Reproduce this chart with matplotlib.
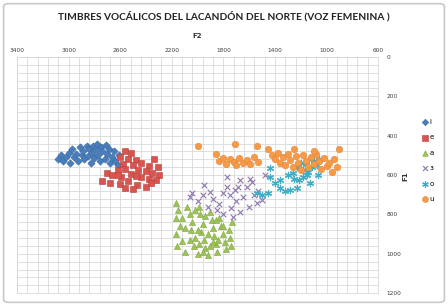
import numpy as np
import matplotlib.pyplot as plt
from matplotlib.patches import FancyBboxPatch

# F2 / F1 (Hz), one list per vowel
i_f2 = [3080, 3060, 3040, 3020, 3000, 2990, 2970, 2960, 2940, 2930, 2910, 2900, 2890,
        2880, 2860, 2850, 2840, 2830, 2820, 2810, 2800, 2790, 2780, 2770, 2760, 2750,
        2740, 2720, 2710, 2700, 2690, 2680, 2660, 2650, 2640, 2620, 2610]
i_f1 = [520, 500, 530, 510, 490, 540, 470, 510, 495, 530, 460, 500, 480,
        520, 450, 505, 470, 540, 490, 455, 515, 470, 440, 500, 530, 460,
        480, 520, 445, 495, 470, 540, 510, 480, 530, 550, 500]

e_f2 = [2560, 2520, 2600, 2540, 2480, 2580, 2500, 2440, 2380, 2340, 2310, 2620, 2560,
        2460, 2400, 2350, 2300, 2700, 2660, 2590, 2520, 2440, 2380, 2320, 2740, 2680,
        2600, 2540, 2470, 2400, 2560, 2500, 2620, 2480, 2360]
e_f1 = [480, 490, 510, 520, 525, 545, 550, 540, 555, 520, 560, 575, 570,
        575, 580, 590, 600, 590, 600, 610, 595, 610, 620, 625, 630, 640,
        645, 630, 650, 660, 665, 670, 600, 605, 640]

a_f2 = [2170, 2150, 2170, 2140, 2165, 2120, 2160, 2100, 2080, 2060, 2040, 2050, 2020,
        2030, 2000, 1990, 1980, 1960, 1970, 1950, 1940, 1920, 1900, 1890, 1880, 1870,
        1860, 1850, 1830, 1820, 1800, 1790, 1780, 1760, 1750, 1740, 1730, 2100, 2000,
        1920, 1880, 1960, 1900, 1840, 2060, 1990, 2020, 1940, 1860, 1800, 2120]
a_f1 = [740, 780, 820, 860, 900, 935, 960, 990, 760, 800, 840, 880, 920,
        960, 1000, 760, 800, 850, 890, 930, 970, 1005, 790, 830, 870, 910,
        950, 990, 820, 860, 900, 940, 975, 880, 920, 960, 840, 870, 880,
        900, 940, 990, 960, 930, 930, 950, 780, 810, 830, 860, 820]

schwa_f2 = [2060, 2040, 2000, 1960, 1900, 1880, 1850, 1830, 1800, 1770, 1770, 1740,
            1725, 1710, 1690, 1670, 1670, 1650, 1620, 1580, 1540, 1500, 1480, 1590,
            1560, 1600, 1700, 1920, 1950, 1800, 1750, 1530]
schwa_f1 = [710, 690, 730, 700, 685, 720, 780, 745, 690, 610, 660, 765,
            815, 675, 660, 625, 790, 710, 660, 635, 740, 725, 600, 620,
            700, 760, 730, 760, 650, 800, 700, 680]

o_f2 = [1540, 1500, 1450, 1440, 1440, 1400, 1360, 1360, 1320, 1280, 1260, 1230, 1230,
        1210, 1180, 1160, 1150, 1130, 1110, 1100, 1090, 1075, 1070, 1120, 1200, 1300,
        1250, 1180, 1140, 1060]
o_f1 = [690, 700, 690, 610, 565, 640, 625, 665, 680, 675, 590, 665, 560,
        625, 575, 545, 600, 640, 560, 530, 540, 550, 600, 520, 540, 600,
        620, 610, 585, 520]

u_f2 = [2000, 1710, 1540, 1860, 1830, 1800, 1780, 1750, 1720, 1700, 1680, 1650, 1620,
        1590, 1560, 1530, 1420, 1400, 1380, 1360, 1340, 1320, 1300, 1280, 1260, 1240,
        1220, 1200, 1180, 1160, 1140, 1120, 1100, 1080, 1060, 1040, 1020, 1000, 980,
        960, 940, 920, 900, 1250, 1450, 1100]
u_f1 = [455, 440, 450, 495, 530, 515, 545, 520, 535, 550, 515, 540, 525,
        545, 510, 535, 500, 520, 490, 540, 510, 550, 495, 525, 560, 505,
        540, 575, 500, 530, 560, 510, 545, 495, 530, 570, 515, 555, 540,
        585, 520, 560, 470, 470, 470, 480]

labels = ['i', 'e', 'a', 'ɜ', 'o', 'u']

fig = plt.figure(figsize=(4.48, 3.06), dpi=100)
fig.patches.append(FancyBboxPatch((0.008, 0.012), 0.984, 0.976, boxstyle='round,pad=0,rounding_size=0.01',
                                  transform=fig.transFigure, facecolor='none', edgecolor='#c8c8c8', lw=1.2))
ax = fig.add_axes([0.038, 0.042, 0.806, 0.772])

ax.scatter(i_f2, i_f1, marker='D', s=14, c='#4a7ebb', edgecolors='#3a6aa5', linewidths=0.4, label=labels[0])
ax.scatter(e_f2, e_f1, marker='s', s=18, c='#d9534f', edgecolors='#b8403c', linewidths=0.4, label=labels[1])
ax.scatter(a_f2, a_f1, marker='^', s=20, c='#9bc356', edgecolors='#82a845', linewidths=0.4, label=labels[2])
ax.scatter(schwa_f2, schwa_f1, marker='x', s=16, c='#8d76ad', linewidths=0.8, label=labels[3])
ax.scatter(o_f2, o_f1, marker=(6, 2, 0), s=20, c='#3fadc6', linewidths=0.9, label=labels[4])
ax.scatter(u_f2, u_f1, marker='o', s=22, c='#f79a46', edgecolors='#e3853a', linewidths=0.4, label=labels[5])

ax.set_xlim(3400, 600)
ax.set_ylim(1200, 0)
ax.set_xticks(np.arange(600, 3401, 400))
ax.set_yticks(np.arange(0, 1201, 200))
ax.set_xticks(np.arange(600, 3401, 80), minor=True)
ax.set_yticks(np.arange(0, 1201, 40), minor=True)
ax.xaxis.tick_top()
ax.yaxis.tick_right()
ax.tick_params(which='both', length=0, labelsize=4.2, colors='#404040')
ax.tick_params(axis='x', pad=3)
ax.tick_params(axis='y', pad=6)
ax.grid(which='both', color='#d9d9d9', lw=0.6)
ax.set_axisbelow(True)
for s in ax.spines.values():
    s.set_color('#d9d9d9')
    s.set_linewidth(0.6)

fig.text(0.44, 0.882, 'F2', fontsize=5, fontweight='bold', ha='center', va='center', color='#333333')
fig.text(0.905, 0.425, 'F1', fontsize=5, fontweight='bold', rotation=90, ha='center', va='center', color='#333333')
fig.text(0.5, 0.948, 'TIMBRES VOCÁLICOS DEL LACANDÓN DEL NORTE (VOZ FEMENINA )', fontsize=7.3,
         fontweight='bold', family='Lato', ha='center', va='center', color='#222222')

fig.legend(loc='upper left', bbox_to_anchor=(0.935, 0.62), frameon=False, fontsize=5,
           handletextpad=0.1, labelspacing=1.35, handlelength=1.0, borderaxespad=0, markerscale=0.9)

fig.savefig('out.png', dpi=100)
